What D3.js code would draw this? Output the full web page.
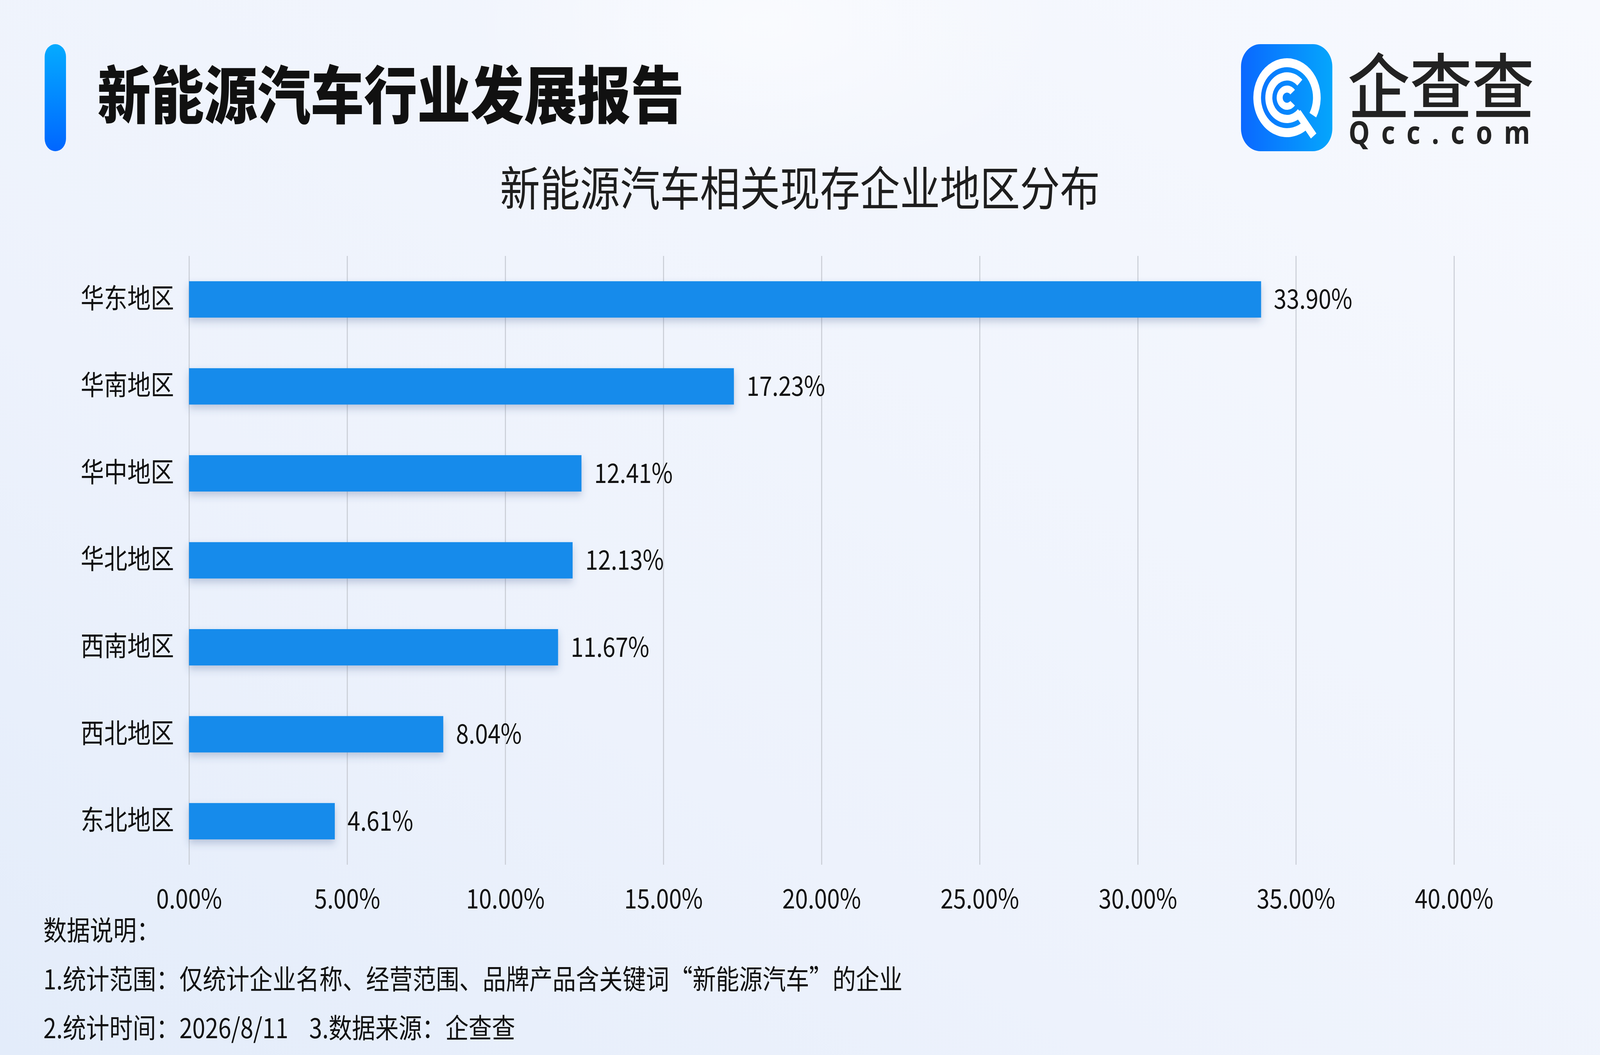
<!DOCTYPE html>
<html>
<head>
<meta charset="utf-8">
<script src="https://cdn.jsdelivr.net/npm/d3@7"></script>
<style>
    html, body { margin: 0; padding: 0; background: #eef3fc; overflow: hidden; }
    svg { display: block; }
    text { font-family: 'Noto Sans CJK SC', 'Noto Sans', sans-serif; }
</style>
</head>
<body>
<div id="chart"></div>
<script>
// Chart data
const regions = ['华东地区', '华南地区', '华中地区', '华北地区', '西南地区', '西北地区', '东北地区'];
const shares = [33.90, 17.23, 12.41, 12.13, 11.67, 8.04, 4.61];
const tickValues = [0, 5, 10, 15, 20, 25, 30, 35, 40];

const reportTitle = '新能源汽车行业发展报告';
const chartTitle = '新能源汽车相关现存企业地区分布';
const notes = [
    '数据说明：',
    '1.统计范围：仅统计企业名称、经营范围、品牌产品含关键词“新能源汽车”的企业',
    '2.统计时间：2026/8/11    3.数据来源：企查查'
];

const data = regions.map((r, i) => ({ region: r, value: shares[i] }));

const width = 4800;
const height = 2700;
const margin = { top: 655, right: 438, bottom: 487, left: 567 };

// scale the drawing to whatever the viewport really is
const svg = d3.select('#chart').append('svg')
    .attr('viewBox', `0 0 ${width} ${height}`)
    .attr('preserveAspectRatio', 'none')
    .style('width', '100vw')
    .style('height', '100vh');

const defs = svg.append('defs');

// Background gradients
const bgGrad = defs.append('linearGradient')
    .attr('id', 'bgGrad')
    .attr('x1', 0).attr('y1', 1).attr('x2', 1).attr('y2', 0);
bgGrad.append('stop').attr('offset', '0%').attr('stop-color', '#e3ecfa');
bgGrad.append('stop').attr('offset', '35%').attr('stop-color', '#edf2fc');
bgGrad.append('stop').attr('offset', '100%').attr('stop-color', '#f7f9fe');

const glow = defs.append('radialGradient').attr('id', 'glow');
glow.append('stop').attr('offset', '0%').attr('stop-color', '#ffffff').attr('stop-opacity', 0.55);
glow.append('stop').attr('offset', '100%').attr('stop-color', '#ffffff').attr('stop-opacity', 0);

const accentGrad = defs.append('linearGradient')
    .attr('id', 'accentGrad')
    .attr('x1', 0).attr('y1', 0).attr('x2', 0).attr('y2', 1);
accentGrad.append('stop').attr('offset', '0%').attr('stop-color', '#05abff');
accentGrad.append('stop').attr('offset', '100%').attr('stop-color', '#0066ff');

const logoGrad = defs.append('linearGradient')
    .attr('id', 'logoGrad')
    .attr('x1', 0).attr('y1', 0).attr('x2', 1).attr('y2', 0);
logoGrad.append('stop').attr('offset', '0%').attr('stop-color', '#0a68ff');
logoGrad.append('stop').attr('offset', '100%').attr('stop-color', '#05a6fc');

// Soft shadow under the bars
const shadow = defs.append('filter')
    .attr('id', 'barShadow')
    .attr('x', '-5%').attr('y', '-30%')
    .attr('width', '110%').attr('height', '180%');
shadow.append('feDropShadow')
    .attr('dx', 0).attr('dy', 10)
    .attr('stdDeviation', 10)
    .attr('flood-color', '#3b4f86')
    .attr('flood-opacity', 0.28);

svg.append('rect')
    .attr('width', width)
    .attr('height', height)
    .attr('fill', 'url(#bgGrad)');

svg.append('ellipse')
    .attr('cx', 2300).attr('cy', 60)
    .attr('rx', 900).attr('ry', 420)
    .attr('fill', 'url(#glow)');

// Header
svg.append('rect')
    .attr('x', 134).attr('y', 113)
    .attr('width', 64).attr('height', 274)
    .attr('rx', 32)
    .attr('fill', 'url(#accentGrad)');

svg.append('text')
    .attr('x', 292)
    .attr('y', 233)
    .attr('dominant-baseline', 'central')
    .style('font-size', '160px')
    .style('font-weight', 900)
    .style('fill', '#111')
    .text(reportTitle);

// Logo
const logo = svg.append('g');

logo.append('rect')
    .attr('x', 3723).attr('y', 113)
    .attr('width', 274).attr('height', 274)
    .attr('rx', 58)
    .attr('fill', 'url(#logoGrad)');

const arc = d3.arc();
const logoCx = 3861;
const logoCy = 250;
const deg = Math.PI / 180;
const rings = [
    { inner: 78, outer: 101, start: 146 * deg, end: 480 * deg },
    { inner: 44, outer: 65, start: 132 * deg, end: 405 * deg },
    { inner: 13, outer: 31, start: 130 * deg, end: 410 * deg }
];
logo.selectAll('path.ring')
    .data(rings)
    .enter().append('path')
    .attr('class', 'ring')
    .attr('transform', `translate(${logoCx}, ${logoCy})`)
    .attr('d', d => arc({ innerRadius: d.inner, outerRadius: d.outer, startAngle: d.start, endAngle: d.end, cornerRadius: 3 }))
    .attr('fill', '#fff');

logo.append('line')
    .attr('x1', logoCx + 32).attr('y1', logoCy + 38)
    .attr('x2', logoCx + 80).attr('y2', logoCy + 98)
    .attr('stroke', '#fff')
    .attr('stroke-width', 21);

logo.append('text')
    .attr('x', 4043)
    .attr('y', 210)
    .attr('dominant-baseline', 'central')
    .attr('textLength', 560)
    .attr('lengthAdjust', 'spacingAndGlyphs')
    .style('font-size', '182px')
    .style('font-weight', 500)
    .style('fill', '#222')
    .text('企查查');

logo.append('text')
    .attr('x', 4046)
    .attr('y', 368)
    .attr('textLength', 544)
    .attr('lengthAdjust', 'spacing')
    .style('font-family', "'Noto Sans', sans-serif")
    .style('font-size', '80px')
    .style('font-weight', 700)
    .style('fill', '#222')
    .text('Qcc.com');

// Chart title
svg.append('text')
    .attr('x', width / 2)
    .attr('y', 475)
    .attr('text-anchor', 'middle')
    .attr('dominant-baseline', 'central')
    .style('font-size', '120px')
    .style('fill', '#1e1e1e')
    .text(chartTitle);

// Scales
const xScale = d3.scaleLinear()
    .domain([0, 40])
    .range([margin.left, width - margin.right]);

const yScale = d3.scaleBand()
    .domain(regions)
    .range([margin.top, height - margin.bottom])
    .paddingInner(0.582)
    .paddingOuter(0.291);

// Gridlines + x tick labels
const xAxis = d3.axisBottom(xScale)
    .tickValues(tickValues)
    .tickSize(-(height - margin.bottom - margin.top))
    .tickPadding(63)
    .tickFormat(d => d.toFixed(2) + '%');

const xAxisG = svg.append('g')
    .attr('transform', `translate(0, ${height - margin.bottom})`)
    .call(xAxis);

xAxisG.select('.domain').remove();
xAxisG.selectAll('line')
    .attr('stroke', '#c9cdd5')
    .attr('stroke-width', 3);
xAxisG.selectAll('text')
    .style('font-size', '69px')
    .style('fill', '#111');

// Bars
svg.selectAll('rect.bar')
    .data(data)
    .enter().append('rect')
    .attr('class', 'bar')
    .attr('x', xScale(0))
    .attr('y', d => yScale(d.region))
    .attr('width', d => xScale(d.value) - xScale(0))
    .attr('height', yScale.bandwidth())
    .attr('fill', '#168beb')
    .attr('filter', 'url(#barShadow)');

// Value labels
svg.selectAll('text.value')
    .data(data)
    .enter().append('text')
    .attr('class', 'value')
    .attr('x', d => xScale(d.value) + 38)
    .attr('y', d => yScale(d.region) + yScale.bandwidth() / 2)
    .attr('dy', '.35em')
    .style('font-size', '69px')
    .style('fill', '#111')
    .text(d => d.value.toFixed(2) + '%');

// Category axis
const yAxis = d3.axisLeft(yScale)
    .tickSize(0)
    .tickPadding(45);

const yAxisG = svg.append('g')
    .attr('transform', `translate(${margin.left}, 0)`)
    .call(yAxis);

yAxisG.select('.domain').remove();
yAxisG.selectAll('text')
    .style('font-size', '70px')
    .style('fill', '#111');

// Footer notes
svg.selectAll('text.note')
    .data(notes)
    .enter().append('text')
    .attr('class', 'note')
    .attr('x', 130)
    .attr('y', (d, i) => [2377, 2502, 2627][i])
    .attr('dominant-baseline', 'central')
    .style('font-size', '70px')
    .style('fill', '#111')
    .style('white-space', 'pre')
    .text(d => d);
</script>
</body>
</html>
